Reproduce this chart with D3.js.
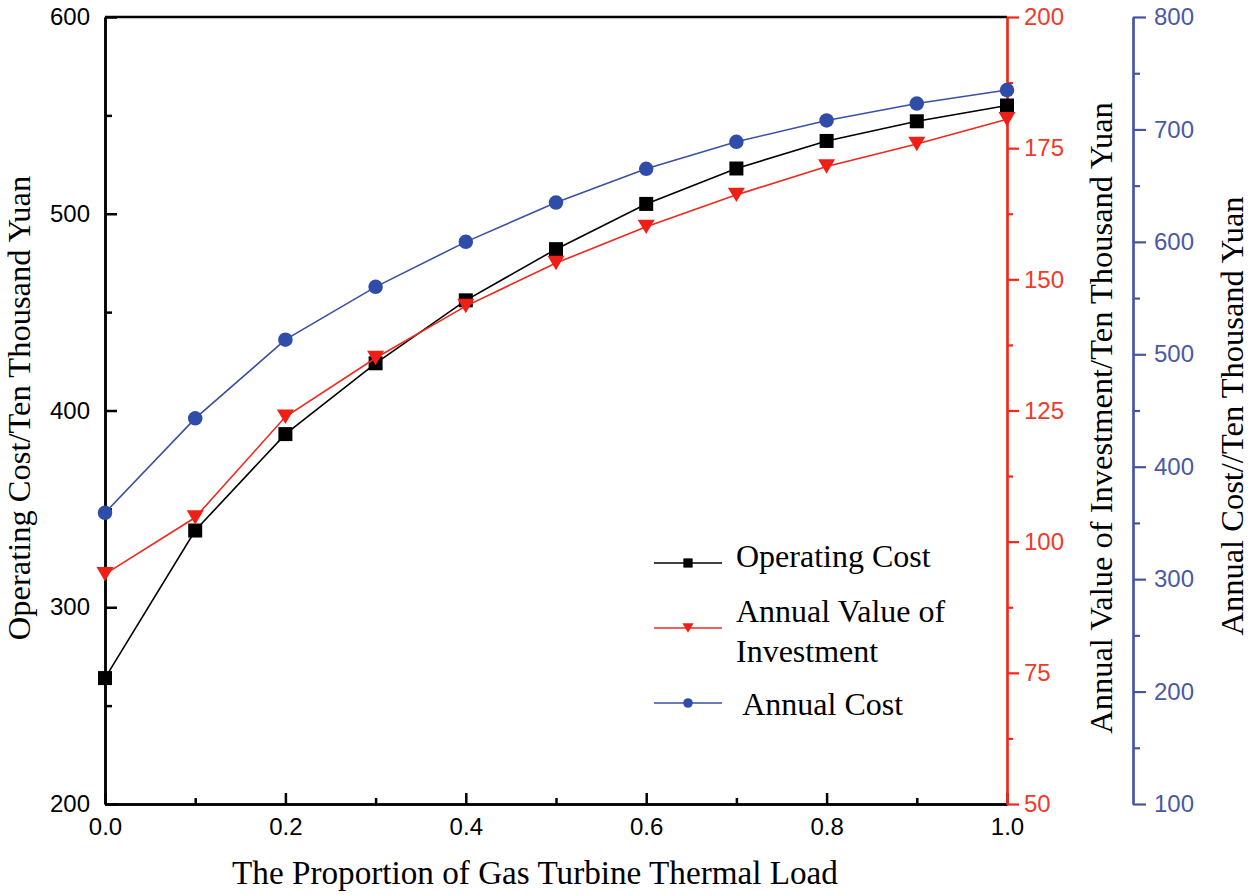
<!DOCTYPE html>
<html>
<head>
<meta charset="utf-8">
<script src="https://cdn.jsdelivr.net/npm/d3@7"></script>
<style>
  html, body { margin: 0; padding: 0; background: #fff; }
  svg { display: block; }
</style>
</head>
<body>
<svg id="chart" width="1250" height="895"></svg>
<script>
// ---- data ----
const proportion = [0, 0.1, 0.2, 0.3, 0.4, 0.5, 0.6, 0.7, 0.8, 0.9, 1.0];
const operatingCost = [264, 339, 388, 424, 456, 482, 505, 523, 537, 547, 555];
const investmentValue = [93.8, 104.6, 123.8, 135.0, 144.9, 153.1, 160.0, 166.1, 171.5, 175.8, 180.5];
const annualCost = [359, 443, 513, 560, 600, 635, 665, 689, 708, 723, 735];

const xTicks = [0, 0.2, 0.4, 0.6, 0.8, 1.0];
const xMinorTicks = [0.1, 0.3, 0.5, 0.7, 0.9];
const leftTicks = [200, 300, 400, 500, 600];
const leftMinorTicks = [250, 350, 450, 550];
const redTicks = [50, 75, 100, 125, 150, 175, 200];
const redMinorTicks = [62.5, 87.5, 112.5, 137.5, 162.5, 187.5];
const blueTicks = [100, 200, 300, 400, 500, 600, 700, 800];
const blueMinorTicks = [150, 250, 350, 450, 550, 650, 750];

const seriesNames = ["Operating Cost", "Annual Value of|Investment", " Annual Cost"];

// ---- layout ----
const L = 105, R = 1007, T = 17, B = 804;
const blueAxisX = 1133;
const RED = "#f0281c", RED_TXT = "#f03a2a";
const BLUE = "#2f4da8", BLUE_AX = "#4655a2", BLUE_TXT = "#4a58a8";
const sansFont = "'Liberation Sans', Arial, sans-serif";
const serifFont = "'Liberation Serif', 'Times New Roman', serif";

const svg = d3.select("#chart");

const x = d3.scaleLinear().domain([0, 1]).range([L, R]);
const yL = d3.scaleLinear().domain([200, 600]).range([B, T]);
const yR = d3.scaleLinear().domain([50, 200]).range([B, T]);
const yB = d3.scaleLinear().domain([100, 800]).range([B, T]);

function styleAxis(g, color, width) {
  g.selectAll("path.domain").attr("stroke", color).attr("stroke-width", width);
  g.selectAll(".tick line").attr("stroke", color).attr("stroke-width", width);
  g.selectAll(".tick text").attr("fill", color).style("font-family", sansFont).style("font-size", "24px");
}

// top frame line
svg.append("line").attr("x1", L).attr("x2", R).attr("y1", T).attr("y2", T)
  .attr("stroke", "#000").attr("stroke-width", 2.5);

// x axis
const gxMinor = svg.append("g").attr("transform", `translate(0,${B})`)
  .call(d3.axisBottom(x).tickValues(xMinorTicks).tickSize(-6).tickSizeOuter(0).tickFormat(""));
styleAxis(gxMinor, "#000", 2.5);
const gx = svg.append("g").attr("transform", `translate(0,${B})`)
  .call(d3.axisBottom(x).tickValues(xTicks).tickSize(-11).tickSizeOuter(0).tickPadding(14).tickFormat(d3.format(".1f")));
styleAxis(gx, "#000", 2.5);

// left axis
const glMinor = svg.append("g").attr("transform", `translate(${L},0)`)
  .call(d3.axisLeft(yL).tickValues(leftMinorTicks).tickSize(-7).tickSizeOuter(0).tickFormat(""));
styleAxis(glMinor, "#000", 2.5);
const gl = svg.append("g").attr("transform", `translate(${L},0)`)
  .call(d3.axisLeft(yL).tickValues(leftTicks).tickSize(-12).tickSizeOuter(0).tickPadding(15));
styleAxis(gl, "#000", 2.5);

// red axis
const grMinor = svg.append("g").attr("transform", `translate(${R},0)`)
  .call(d3.axisRight(yR).tickValues(redMinorTicks).tickSize(6).tickSizeOuter(0).tickFormat(""));
styleAxis(grMinor, RED, 2.2);
const gr = svg.append("g").attr("transform", `translate(${R},0)`)
  .call(d3.axisRight(yR).tickValues(redTicks).tickSize(12).tickSizeOuter(0).tickPadding(5));
styleAxis(gr, RED, 2.2);
gr.selectAll(".tick text").attr("fill", RED_TXT);

// blue axis
const gbMinor = svg.append("g").attr("transform", `translate(${blueAxisX},0)`)
  .call(d3.axisRight(yB).tickValues(blueMinorTicks).tickSize(7).tickSizeOuter(0).tickFormat(""));
styleAxis(gbMinor, BLUE_AX, 2.2);
const gb = svg.append("g").attr("transform", `translate(${blueAxisX},0)`)
  .call(d3.axisRight(yB).tickValues(blueTicks).tickSize(13).tickSizeOuter(0).tickPadding(8));
styleAxis(gb, BLUE_AX, 2.2);
gb.selectAll(".tick text").attr("fill", BLUE_TXT);

// axis titles
function title(txt, tx, ty, rot, size) {
  svg.append("text").attr("transform", `translate(${tx},${ty}) rotate(${rot})`)
    .attr("text-anchor", "middle").style("font-family", serifFont).style("font-size", size + "px")
    .attr("fill", "#000").text(txt);
}
title("The Proportion of Gas Turbine Thermal Load", (L + R) / 2 - 21, 884, 0, 33.2);
title("Operating Cost/Ten Thousand Yuan", 30, 408, -90, 32.5);
title("Annual Value of Investment/Ten Thousand Yuan", 1112, 418, -90, 32.5);
title("Annual Cost//Ten Thousand Yuan", 1243, 416, -90, 32.5);

// markers
function square(g, cx, cy, s, color) {
  g.append("rect").attr("x", cx - s / 2).attr("y", cy - s / 2).attr("width", s).attr("height", s).attr("fill", color);
}
function triDown(g, cx, cy, w, color) {
  const h = w * 0.85;
  g.append("path").attr("d", `M${cx - w / 2},${cy - h / 2}L${cx + w / 2},${cy - h / 2}L${cx},${cy + h / 2}Z`).attr("fill", color);
}
function circle(g, cx, cy, d, color) {
  g.append("circle").attr("cx", cx).attr("cy", cy).attr("r", d / 2).attr("fill", color);
}

const series = [
  { vals: operatingCost, y: yL, color: "#000", lineColor: "#000", marker: square, size: 14 },
  { vals: investmentValue, y: yR, color: "#ee1f17", lineColor: RED, marker: triDown, size: 17 },
  { vals: annualCost, y: yB, color: BLUE, lineColor: "#3b50a4", marker: circle, size: 14.5 }
];

series.forEach(s => {
  const line = d3.line().x((d, i) => x(proportion[i])).y(d => s.y(d));
  svg.append("path").datum(s.vals).attr("d", line).attr("fill", "none")
    .attr("stroke", s.lineColor).attr("stroke-width", 1.6);
  const g = svg.append("g");
  s.vals.forEach((v, i) => s.marker(g, x(proportion[i]), s.y(v), s.size, s.color));
});

// legend
const legendRows = [
  { y: 563, textY: [567] },
  { y: 628, textY: [622, 662] },
  { y: 703, textY: [715] }
];
const lg = svg.append("g");
series.forEach((s, i) => {
  const row = legendRows[i];
  lg.append("line").attr("x1", 654).attr("x2", 722).attr("y1", row.y).attr("y2", row.y)
    .attr("stroke", s.lineColor).attr("stroke-width", 1.6);
  s.marker(lg, 688, row.y, s.size * 0.66, s.color);
  const lines = seriesNames[i].split("|");
  const t = lg.append("text").style("font-family", serifFont).style("font-size", "32px")
    .attr("fill", "#000").attr("xml:space", "preserve").style("white-space", "pre");
  lines.forEach((ln, k) => {
    t.append("tspan").attr("x", 736).attr("y", row.textY[k]).text(ln);
  });
});
</script>
</body>
</html>
